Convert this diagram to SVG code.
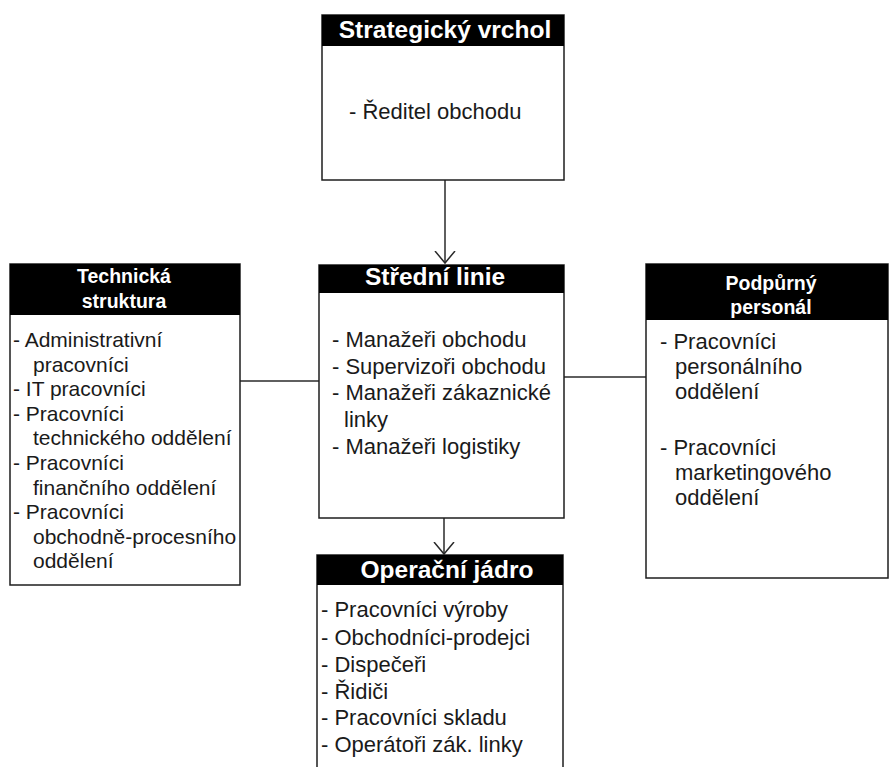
<svg xmlns="http://www.w3.org/2000/svg" width="889" height="767" viewBox="0 0 889 767">
  <style>
    .box { fill: #ffffff; stroke: #1e1e1e; stroke-width: 1.5; }
    .head { fill: #000000; }
    .title { font-family: "Liberation Sans", Arial, sans-serif; font-weight: bold; fill: #ffffff; text-anchor: middle; }
    .t24 { font-size: 24.5px; }
    .t20 { font-size: 19.5px; }
    .item { font-family: "Liberation Sans", Arial, sans-serif; fill: #1a1a1a; }
    .s22 { font-size: 22px; }
    .s21 { font-size: 21px; }
    .link { fill: none; stroke: #2a2a2a; stroke-width: 1.5; }
  </style>
  <defs>
    <marker id="open-arrow" markerUnits="userSpaceOnUse" markerWidth="24" markerHeight="24" refX="12" refY="12" viewBox="0 0 24 24" orient="auto">
      <path d="M0,2 L12,12 L0,22" fill="none" stroke="#2a2a2a" stroke-width="1.5"/>
    </marker>
  </defs>

  <rect width="889" height="767" fill="#ffffff"/>

  <!-- connectors -->
  <g id="connectors">
    <line class="link" x1="445" y1="180" x2="445" y2="263" marker-end="url(#open-arrow)"/>
    <line class="link" x1="444" y1="518" x2="444" y2="554" marker-end="url(#open-arrow)"/>
    <line class="link" x1="240" y1="381" x2="319" y2="381"/>
    <line class="link" x1="564" y1="377" x2="646" y2="377"/>
  </g>

  <!-- top: strategic apex -->
  <g id="strategicky-vrchol">
    <rect class="box" x="322" y="15" width="242" height="165"/>
    <rect class="head" x="322" y="15" width="242" height="31"/>
    <text class="title t24" x="445" y="38">Strategický vrchol</text>
    <text class="item s22" x="349" y="119">- Ředitel obchodu</text>
  </g>

  <!-- centre: middle line -->
  <g id="stredni-linie">
    <rect class="box" x="319" y="265" width="245" height="253"/>
    <rect class="head" x="319" y="265" width="245" height="28"/>
    <text class="title t24" x="435" y="285">Střední linie</text>
    <text class="item s22" x="332" y="347">- Manažeři obchodu</text>
    <text class="item s22" x="332" y="374">- Supervizoři obchodu</text>
    <text class="item s22" x="332" y="400">- Manažeři zákaznické</text>
    <text class="item s22" x="344" y="427">linky</text>
    <text class="item s22" x="332" y="454">- Manažeři logistiky</text>
  </g>

  <!-- left: technostructure -->
  <g id="technicka-struktura">
    <rect class="box" x="10" y="264" width="230" height="321"/>
    <rect class="head" x="10" y="264" width="230" height="51"/>
    <text class="title t20" x="124" y="283">Technická</text>
    <text class="title t20" x="124" y="308">struktura</text>
    <text class="item s21" x="13" y="347">- Administrativní</text>
    <text class="item s21" x="33" y="371.5">pracovníci</text>
    <text class="item s21" x="13" y="396">- IT pracovníci</text>
    <text class="item s21" x="13" y="420.5">- Pracovníci</text>
    <text class="item s21" x="33" y="445">technického oddělení</text>
    <text class="item s21" x="13" y="470">- Pracovníci</text>
    <text class="item s21" x="33" y="494.5">finančního oddělení</text>
    <text class="item s21" x="13" y="519">- Pracovníci</text>
    <text class="item s21" x="33" y="543.5">obchodně-procesního</text>
    <text class="item s21" x="33" y="568">oddělení</text>
  </g>

  <!-- right: support staff -->
  <g id="podpurny-personal">
    <rect class="box" x="646" y="264" width="242" height="314"/>
    <rect class="head" x="646" y="264" width="242" height="56"/>
    <text class="title t20" x="771" y="290">Podpůrný</text>
    <text class="title t20" x="771" y="314">personál</text>
    <text class="item s22" x="660" y="349">- Pracovníci</text>
    <text class="item s22" x="675" y="374">personálního</text>
    <text class="item s22" x="675" y="399">oddělení</text>
    <text class="item s22" x="660" y="455">- Pracovníci</text>
    <text class="item s22" x="675" y="480">marketingového</text>
    <text class="item s22" x="675" y="505">oddělení</text>
  </g>

  <!-- bottom: operating core -->
  <g id="operacni-jadro">
    <rect class="box" x="317" y="555" width="246" height="230"/>
    <rect class="head" x="317" y="555" width="246" height="30"/>
    <text class="title t24" x="447" y="578">Operační jádro</text>
    <text class="item s22" x="321" y="617">- Pracovníci výroby</text>
    <text class="item s22" x="321" y="645">- Obchodníci-prodejci</text>
    <text class="item s22" x="321" y="672">- Dispečeři</text>
    <text class="item s22" x="321" y="699">- Řidiči</text>
    <text class="item s22" x="321" y="725">- Pracovníci skladu</text>
    <text class="item s22" x="321" y="752">- Operátoři zák. linky</text>
  </g>
</svg>
